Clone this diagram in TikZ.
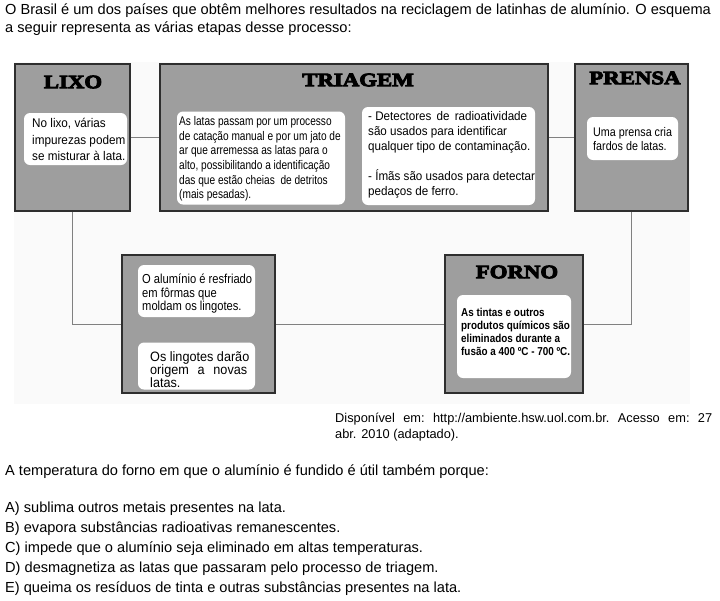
\documentclass[tikz,border=0pt]{standalone}
\usepackage{fontspec}
\setmainfont{Liberation Sans}
\newfontfamily\sansA[FakeStretch=0.93]{Liberation Sans}
\newfontfamily\sansB[FakeStretch=0.86]{Liberation Sans}
\newfontfamily\sansC[FakeStretch=0.81]{Liberation Sans}
\newfontfamily\titlefont[FakeBold=5,FakeStretch=1.2]{Liberation Serif}
\tikzset{
  graybox/.style={draw=black!82, line width=1.6pt, fill=black!38, inner sep=0pt},
  whitebox/.style={fill=white, rounded corners=6pt, inner sep=0pt},
  link/.style={draw=black!50, line width=0.8pt},
  boxtitle/.style={inner sep=0pt, font=\titlefont\bfseries\fontsize{19}{19}\selectfont},
  intext/.style={inner sep=0pt, align=left, anchor=west},
  plain/.style={inner sep=0pt, anchor=base west, font=\fontsize{14.6}{17}\selectfont}
}
\begin{document}
\begin{tikzpicture}[x=1pt, y={(0pt,-1pt)}]
\useasboundingbox (0,0) rectangle (720,600);
\fill[black!2] (14,62) rectangle (690,404);

% gray boxes
\node[graybox, minimum width=115, minimum height=147] (lixo) at (72.5,137.5) {};
\node[graybox, minimum width=388, minimum height=147] (triagem) at (354,137.5) {};
\node[graybox, minimum width=113, minimum height=147] (prensa) at (631.5,137.5) {};
\node[graybox, minimum width=153, minimum height=138] (molde) at (198.5,324) {};
\node[graybox, minimum width=138, minimum height=138] (forno) at (514,324) {};

% connectors
\draw[link] (lixo.east) -- (triagem.west);
\draw[link] (triagem.east) -- (prensa.west);
\draw[link] (lixo.south) |- (molde.west);
\draw[link] (molde.east) -- (forno.west);
\draw[link] (prensa.south) |- (forno.east);

% titles
\node[boxtitle] (tlixo) at (73,82) {LIXO};
\node[boxtitle] (ttriagem) at (358,80) {TRIAGEM};
\node[boxtitle] (tprensa) at (635,78) {PRENSA};
\node[boxtitle] (tforno) at (517,272) {FORNO};

% white boxes
\node[whitebox, minimum width=103, minimum height=52] (w1) at (75.5,139) {};
\node[whitebox, minimum width=168, minimum height=93] (w2) at (261,158) {};
\node[whitebox, minimum width=173, minimum height=98] (w3) at (448.5,156) {};
\node[whitebox, minimum width=91, minimum height=43] (w4) at (632.5,138.5) {};
\node[whitebox, minimum width=117, minimum height=52] (w5) at (196.5,291) {};
\node[whitebox, minimum width=117, minimum height=47] (w6) at (196.5,366) {};
\node[whitebox, minimum width=114, minimum height=83] (w7) at (514,336.5) {};

% texts in white boxes
\node[intext, font=\sansA\fontsize{12.6}{16.5}\selectfont] (t1) at (32,139.5)
  {No lixo, várias\\impurezas podem\\se misturar à lata.};
\node[intext, font=\sansC\fontsize{12.5}{14.7}\selectfont] (t2) at (179,159)
  {As latas passam por um processo\\de catação manual e por um jato de\\ar que arremessa as latas para o\\alto, possibilitando a identificação\\das que estão cheias\ \ de detritos\\(mais pesadas).};
\node[intext, font=\sansA\fontsize{12.5}{15}\selectfont] (t3) at (368,155)
  {\hbox to 159pt{- Detectores\hfil de\hfil radioatividade}\\são usados para identificar\\qualquer tipo de contaminação.\\[15pt]- Ímãs são usados para detectar\\pedaços de ferro.};
\node[intext, font=\sansB\fontsize{12.5}{13.5}\selectfont] (t4) at (593,139)
  {Uma prensa cria\\fardos de latas.};
\node[intext, font=\sansB\fontsize{13}{13.5}\selectfont] (t5) at (142,294)
  {O alumínio é resfriado\\em fôrmas que\\moldam os lingotes.};
\node[intext, font=\sansA\fontsize{13.6}{13}\selectfont] (t6) at (150,369.5)
  {Os lingotes darão\\\hbox to 97pt{origem\hfil a\hfil novas}\\latas.};
\node[intext, font=\sansB\bfseries\fontsize{11.5}{12.8}\selectfont] (t7) at (461,332)
  {As tintas e outros\\produtos químicos são\\eliminados durante a\\fusão a 400 ºC - 700 ºC.};

% surrounding text
\node[plain] (intro1) at (5,14) {O Brasil é um dos países que obtêm melhores resultados na reciclagem de latinhas de alumínio. O esquema};
\node[plain] (intro2) at (5,32) {a seguir representa as várias etapas desse processo:};
\node[plain, font=\fontsize{12.8}{15}\selectfont] (src1) at (335,422) {\hbox to 377pt{Disponível\hfil\ em:\hfil\ http://ambiente.hsw.uol.com.br.\hfil\ Acesso\hfil\ em:\hfil\ 27}};
\node[plain, font=\fontsize{12.8}{15}\selectfont] (src2) at (335,438) {abr. 2010 (adaptado).};
\node[plain] (q) at (5,475) {A temperatura do forno em que o alumínio é fundido é útil também porque:};
\node[plain] (oa) at (5,512) {A) sublima outros metais presentes na lata.};
\node[plain] (ob) at (5,532) {B) evapora substâncias radioativas remanescentes.};
\node[plain] (oc) at (5,552) {C) impede que o alumínio seja eliminado em altas temperaturas.};
\node[plain] (od) at (5,572) {D) desmagnetiza as latas que passaram pelo processo de triagem.};
\node[plain] (oe) at (5,592) {E) queima os resíduos de tinta e outras substâncias presentes na lata.};
\end{tikzpicture}
\end{document}
